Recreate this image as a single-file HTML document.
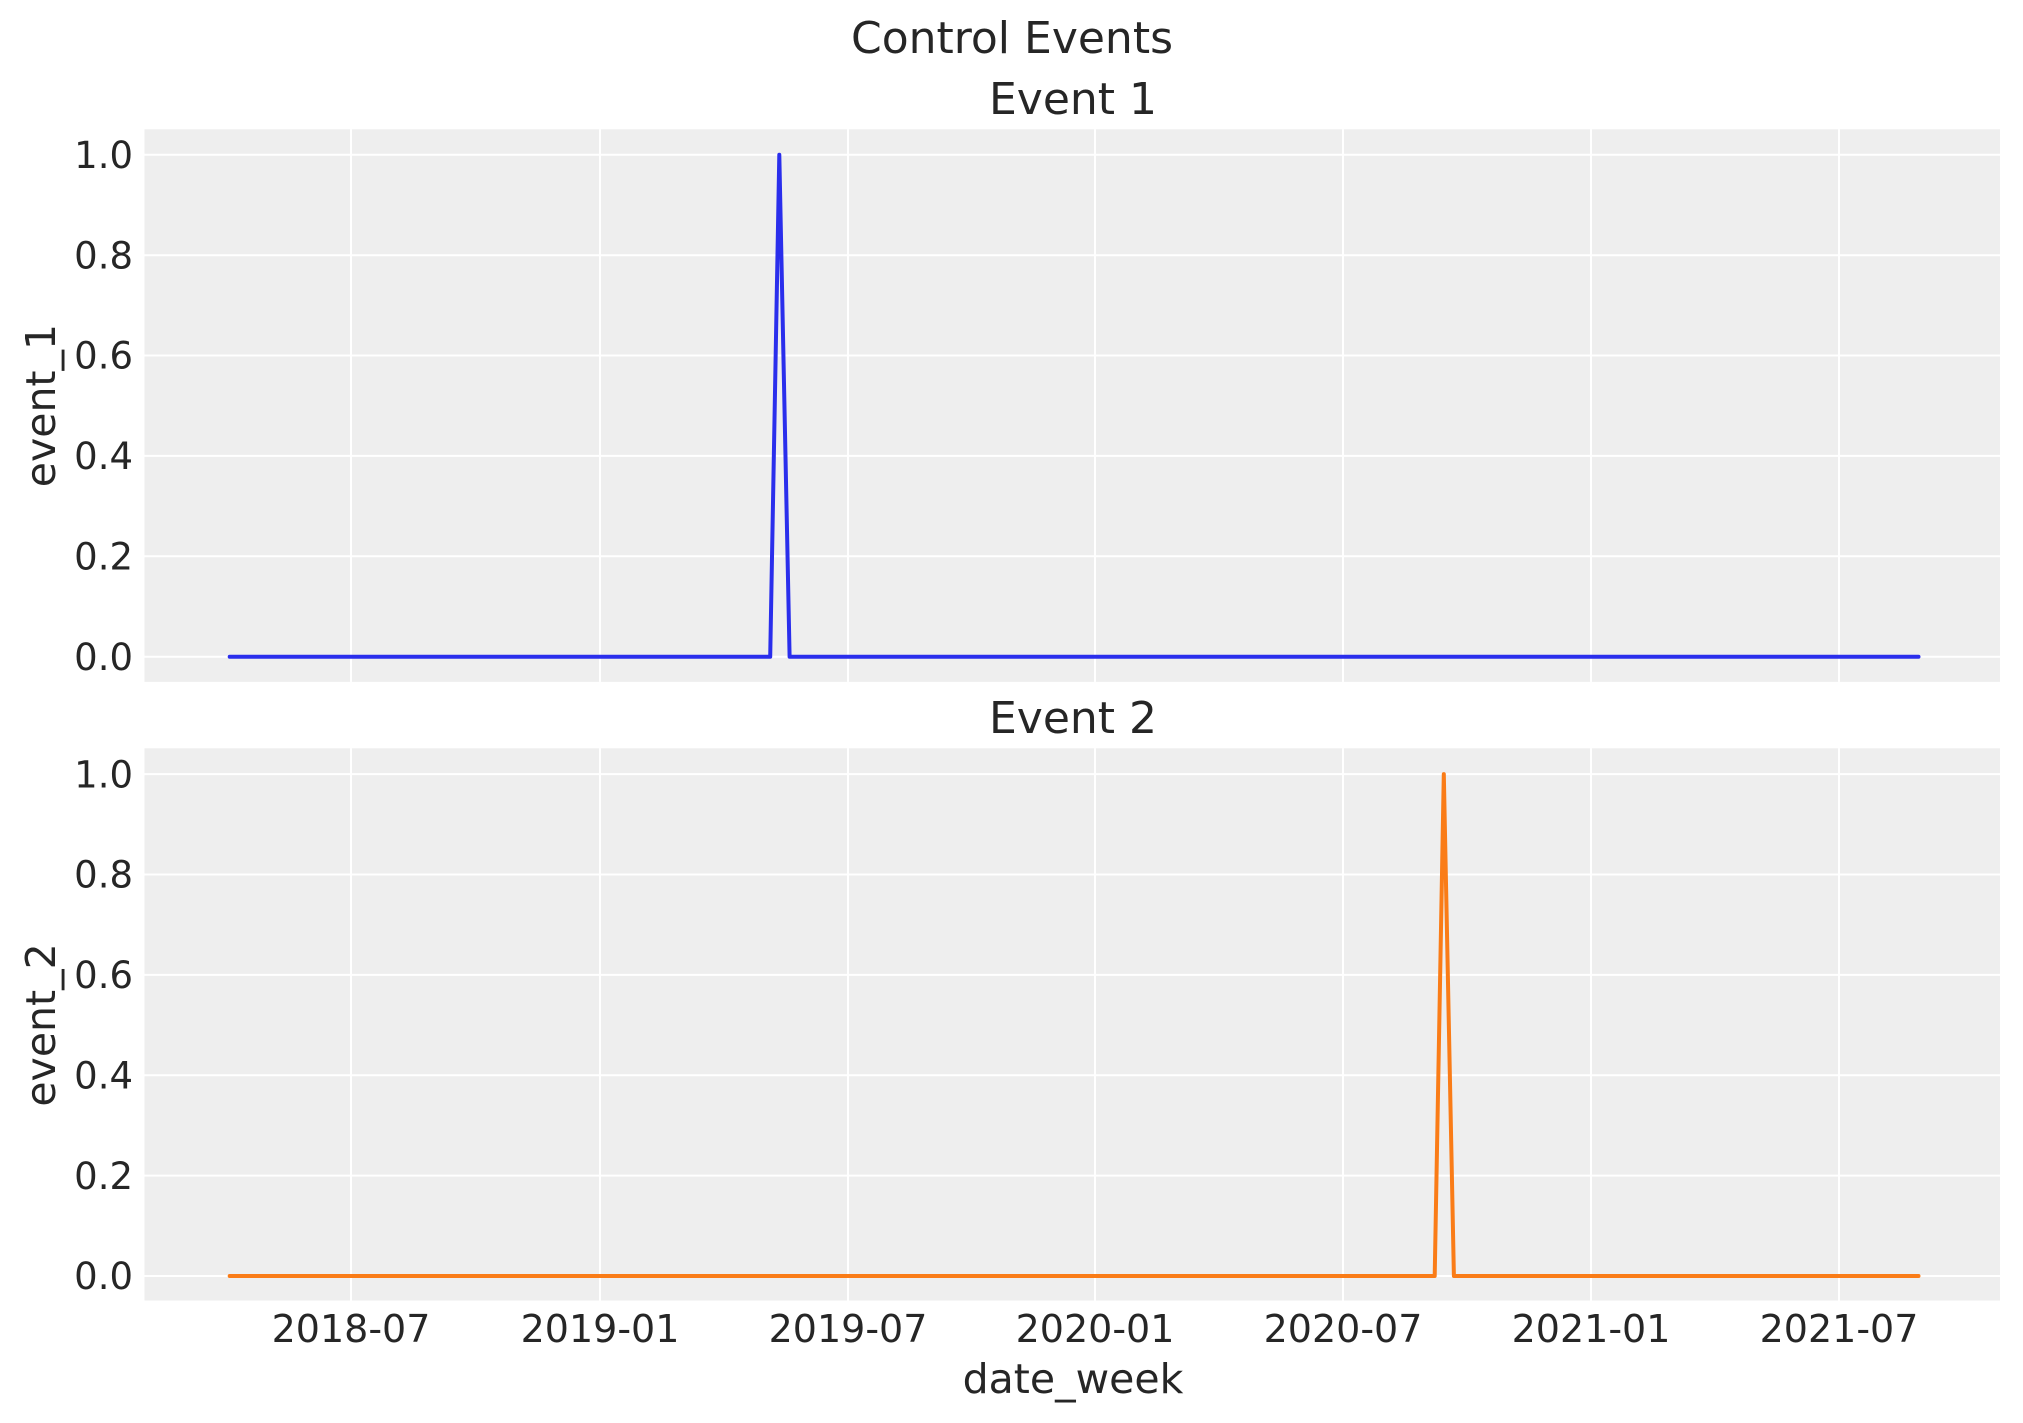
<!DOCTYPE html>
<html><head><style>html,body{margin:0;padding:0;background:#fff}svg{display:block}</style></head>
<body>
<svg width="2023" height="1423" viewBox="0 0 2023 1423" xmlns="http://www.w3.org/2000/svg" font-family="DejaVu Sans, Liberation Sans, sans-serif" fill="#262626">
<text x="1012" y="53" font-size="44" text-anchor="middle">Control Events</text>
<!-- Panel 1 -->
<rect x="144.5" y="129.3" width="1855.5" height="552.6" fill="#eeeeee"/>
<g stroke="#fff" stroke-width="2">
<line x1="351" y1="129.3" x2="351" y2="681.9"/><line x1="600" y1="129.3" x2="600" y2="681.9"/><line x1="848" y1="129.3" x2="848" y2="681.9"/><line x1="1095" y1="129.3" x2="1095" y2="681.9"/><line x1="1343" y1="129.3" x2="1343" y2="681.9"/><line x1="1591" y1="129.3" x2="1591" y2="681.9"/><line x1="1839" y1="129.3" x2="1839" y2="681.9"/>
<line x1="144.5" y1="154.8" x2="2000" y2="154.8"/><line x1="144.5" y1="255.2" x2="2000" y2="255.2"/><line x1="144.5" y1="355.5" x2="2000" y2="355.5"/><line x1="144.5" y1="455.9" x2="2000" y2="455.9"/><line x1="144.5" y1="556.3" x2="2000" y2="556.3"/><line x1="144.5" y1="656.7" x2="2000" y2="656.7"/>
</g>
<polyline points="229.7,656.7 770.2,656.7 779.3,154.8 789.6,656.7 1918.5,656.7" fill="none" stroke="#2a2eec" stroke-width="4" stroke-linejoin="round" stroke-linecap="round"/>
<g font-size="37" text-anchor="end">
<text x="133" y="168">1.0</text><text x="133" y="268.4">0.8</text><text x="133" y="368.7">0.6</text><text x="133" y="469.1">0.4</text><text x="133" y="569.5">0.2</text><text x="133" y="669.9">0.0</text>
</g>
<text transform="translate(55,405.6) rotate(-90)" font-size="41" text-anchor="middle">event_1</text>
<text x="1073" y="114" font-size="44" text-anchor="middle">Event 1</text>
<!-- Panel 2 -->
<rect x="144.5" y="748.3" width="1855.5" height="552.2" fill="#eeeeee"/>
<g stroke="#fff" stroke-width="2">
<line x1="351" y1="748.3" x2="351" y2="1300.5"/><line x1="600" y1="748.3" x2="600" y2="1300.5"/><line x1="848" y1="748.3" x2="848" y2="1300.5"/><line x1="1095" y1="748.3" x2="1095" y2="1300.5"/><line x1="1343" y1="748.3" x2="1343" y2="1300.5"/><line x1="1591" y1="748.3" x2="1591" y2="1300.5"/><line x1="1839" y1="748.3" x2="1839" y2="1300.5"/>
<line x1="144.5" y1="774.1" x2="2000" y2="774.1"/><line x1="144.5" y1="874.5" x2="2000" y2="874.5"/><line x1="144.5" y1="974.9" x2="2000" y2="974.9"/><line x1="144.5" y1="1075.2" x2="2000" y2="1075.2"/><line x1="144.5" y1="1175.6" x2="2000" y2="1175.6"/><line x1="144.5" y1="1276" x2="2000" y2="1276"/>
</g>
<polyline points="229.7,1276 1434.7,1276 1443.8,774.1 1453.9,1276 1918.5,1276" fill="none" stroke="#fa7c17" stroke-width="4" stroke-linejoin="round" stroke-linecap="round"/>
<g font-size="37" text-anchor="end">
<text x="133" y="787.3">1.0</text><text x="133" y="887.7">0.8</text><text x="133" y="988.1">0.6</text><text x="133" y="1088.4">0.4</text><text x="133" y="1188.8">0.2</text><text x="133" y="1289.2">0.0</text>
</g>
<text transform="translate(55,1025) rotate(-90)" font-size="41" text-anchor="middle">event_2</text>
<text x="1073" y="733" font-size="44" text-anchor="middle">Event 2</text>
<g font-size="38" text-anchor="middle">
<text x="351" y="1342">2018-07</text><text x="600" y="1342">2019-01</text><text x="848" y="1342">2019-07</text><text x="1095" y="1342">2020-01</text><text x="1343" y="1342">2020-07</text><text x="1591" y="1342">2021-01</text><text x="1839" y="1342">2021-07</text>
</g>
<text x="1073" y="1393" font-size="41" text-anchor="middle">date_week</text>
</svg>
</body></html>
